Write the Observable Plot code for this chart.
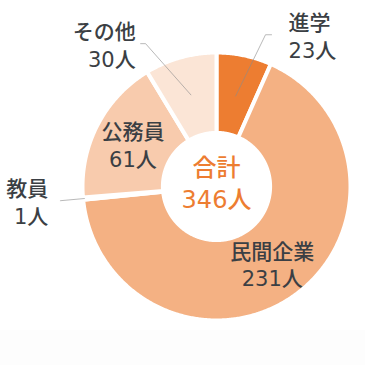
<!DOCTYPE html>
<html>
<head>
<meta charset="utf-8">
<script src="https://cdn.jsdelivr.net/npm/d3@7"></script>
<script src="https://cdn.jsdelivr.net/npm/@observablehq/plot@0.6"></script>
<style>
  html, body { margin: 0; padding: 0; background: #fff; }
  #chart svg { display: block; }
  #foot { height: 35px; background: #fdfdfd; }
</style>
</head>
<body>
<div id="chart"></div>
<div id="foot"></div>
<script>
// ---- data ----
const categories = ["進学", "民間企業", "教員", "公務員", "その他"];
const counts = [23, 231, 1, 61, 30];
const unit = "人";
const totalLabel = "合計";

// ---- styling / layout (not data) ----
const colors = ["#ED7D31", "#F4B183", "#FAD9C4", "#F8CBAD", "#FBE5D6"];
const innerRatio = 0.40;
const textColor = "#3b3f44";
const accent = "#ED7D31";
// label placement per category: inside (at mid-angle radius) or outside with a leader
const labelLayout = {
  "進学":   {mode: "out", startR: 0.69, elbowA: 17.9, elbowR: 1.19, tail: 0.045, dx: 17, anchor: "start"},
  "民間企業": {mode: "in", r: 0.71},
  "教員":   {mode: "out", startR: 0.99, elbowA: null, elbowR: 1.17, tail: 0, dx: -12, anchor: "end"},
  "公務員":  {mode: "in", r: 0.70},
  "その他":  {mode: "out", startR: 0.71, elbowA: -26.4, elbowR: 1.19, tail: -0.037, dx: -5, anchor: "end"}
};

const total = d3.sum(counts);
const rad = (deg) => deg * Math.PI / 180;
const pt = (a, r) => ({x: r * Math.sin(rad(a)), y: r * Math.cos(rad(a))});

// slices: angles clockwise from 12 o'clock
let acc = 0;
const slices = categories.map((c, i) => {
  const a0 = acc / total * 360;
  acc += counts[i];
  const a1 = acc / total * 360;
  return {key: c, value: counts[i], a0, a1, mid: (a0 + a1) / 2};
});

// polygon vertices for each ring segment
const ringPts = [];
for (const s of slices) {
  const n = Math.max(2, Math.ceil((s.a1 - s.a0) / 0.5));
  for (let k = 0; k <= n; k++) {
    const a = s.a0 + (s.a1 - s.a0) * k / n;
    ringPts.push({key: s.key, ...pt(a, 1)});
  }
  for (let k = n; k >= 0; k--) {
    const a = s.a0 + (s.a1 - s.a0) * k / n;
    ringPts.push({key: s.key, ...pt(a, innerRatio)});
  }
}

// labels and leaders
const inLabels = [], outStart = [], outEnd5 = [], outEnd12 = [], leaderPts = [];
for (const s of slices) {
  const L = labelLayout[s.key];
  const text = `${s.key}\n${s.value}${unit}`;
  if (L.mode === "in") {
    inLabels.push({text, ...pt(s.mid, L.r)});
  } else {
    const p0 = pt(s.mid, L.startR);
    const p1 = pt(L.elbowA == null ? s.mid : L.elbowA, L.elbowR);
    const p2 = {x: p1.x + L.tail, y: p1.y};
    leaderPts.push({key: s.key, ...p0}, {key: s.key, ...p1}, {key: s.key, ...p2});
    if (L.anchor === "start") outStart.push({text, ...p2});
    else if (L.dx === -5) outEnd5.push({text, ...p2});
    else outEnd12.push({text, ...p2});
  }
}

const font = "'DejaVu Sans', 'Noto Sans CJK JP', sans-serif";
const lbl = {x: "x", y: "y", text: "text", fontSize: 21, lineHeight: 1.33, fill: textColor, fontWeight: 500};

const chart = Plot.plot({
  width: 365,
  height: 330,
  marginLeft: 82,
  marginRight: 15,
  marginTop: 52,
  marginBottom: 10,
  x: {domain: [-1, 1], axis: null},
  y: {domain: [-1, 1], axis: null},
  color: {domain: categories, range: colors},
  style: {fontFamily: font, background: "transparent"},
  marks: [
    Plot.line(ringPts, {x: "x", y: "y", z: "key", fill: "key", stroke: "white", strokeWidth: 4, curve: "linear-closed"}),
    Plot.line(leaderPts, {x: "x", y: "y", z: "key", stroke: "#8a8a8a", strokeOpacity: 0.6, strokeWidth: 1}),
    Plot.text(inLabels, {...lbl}),
    Plot.text(outStart, {...lbl, dx: 17, textAnchor: "start"}),
    Plot.text(outEnd5, {...lbl, dx: -5, textAnchor: "end"}),
    Plot.text(outEnd12, {...lbl, dx: -12, textAnchor: "end"}),
    Plot.text([{x: 0, y: 0, text: `${totalLabel}\n${total}${unit}`}], {x: "x", y: "y", text: "text", dy: -5, fontSize: 24, lineHeight: 1.35, fill: accent, fontWeight: 500})
  ]
});
document.getElementById("chart").appendChild(chart);
</script>
</body>
</html>
